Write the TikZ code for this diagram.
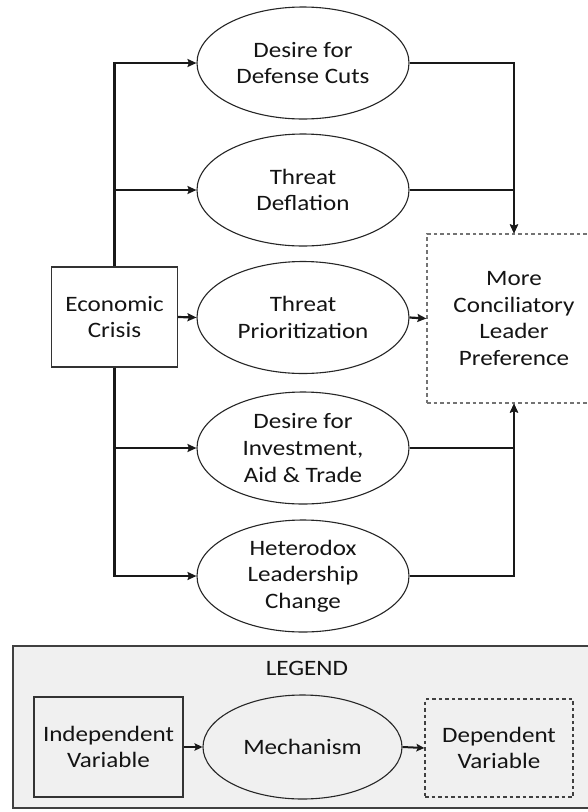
\documentclass[tikz,border=0pt]{standalone}
\usepackage{fontspec}
\setmainfont{Carlito}[FakeStretch=1.14]
\usetikzlibrary{arrows.meta,shapes.geometric}
\tikzset{
  lbl/.style={font=\fontsize{22}{26.7}\selectfont, text=black!92, align=center},
  mech/.style={ellipse, draw=black!85, line width=1.1pt, minimum width=212pt, minimum height=112pt, inner sep=0pt, lbl},
  ivbox/.style={rectangle, draw=black!80, line width=1.1pt, inner sep=0pt, lbl},
  dvbox/.style={rectangle, draw=black!55, dashed, dash pattern=on 3.5pt off 3pt, line width=1.2pt, inner sep=0pt, lbl},
  conn/.style={draw=black!90, line width=2.2pt, -{Stealth[length=9pt,width=8pt,inset=1.5pt]}},
  lconn/.style={draw=black!90, line width=2pt, -{Stealth[length=8pt,width=7.5pt,inset=1.5pt]}},
}
\begin{document}
\begin{tikzpicture}[x=1pt,y=-1pt]
\useasboundingbox (0,0) rectangle (588,812);
\clip (0,0) rectangle (588,812);
\fill[white] (0,0) rectangle (588,812);
% main nodes
\node[ivbox, minimum width=126pt, minimum height=100pt] (econ) at (114.5,317) {Economic\\Crisis};
\node[mech] (e1) at (303,63) {Desire for\\Defense Cuts};
\node[mech] (e2) at (303,190) {Threat\\Deflation};
\node[mech] (e3) at (303,317.5) {Threat\\Prioritization};
\node[mech] (e4) at (303,448) {Desire for\\Investment,\\Aid \& Trade};
\node[mech] (e5) at (303,576) {Heterodox\\Leadership\\Change};
\node[dvbox, minimum width=174pt, minimum height=169pt] (dep) at (514,318.5) {More\\Conciliatory\\Leader\\Preference};
% connectors
\draw[conn] (econ.north) |- (e1.west);
\draw[conn] (econ.north) |- (e2.west);
\draw[conn] (econ.east) -- (e3.west);
\draw[conn] (econ.south) |- (e4.west);
\draw[conn] (econ.south) |- (e5.west);
\draw[conn] (e1.east) -| (dep.north);
\draw[conn] (e2.east) -| (dep.north);
\draw[conn] (e3.east) -- (dep.west);
\draw[conn] (e4.east) -| (dep.south);
\draw[conn] (e5.east) -| (dep.south);
% legend
\node[rectangle, draw=black!75, fill=black!6, line width=1.4pt, minimum width=587pt, minimum height=162pt, inner sep=0pt] (legend) at (306.5,727) {};
\node[lbl] (legtitle) at (307,668) {LEGEND};
\node[ivbox, fill=black!6, minimum width=149pt, minimum height=100pt] (liv) at (108.5,747) {Independent\\Variable};
\node[mech, fill=black!6, minimum width=199pt, minimum height=104pt] (lmech) at (302.5,747) {Mechanism};
\node[dvbox, draw=black!75, fill=black!6, minimum width=148pt, minimum height=98pt] (ldv) at (499,748) {Dependent\\Variable};
\draw[lconn] (liv.east) -- (lmech.west);
\draw[lconn] (lmech.east) -- (ldv.west);
\end{tikzpicture}
\end{document}
